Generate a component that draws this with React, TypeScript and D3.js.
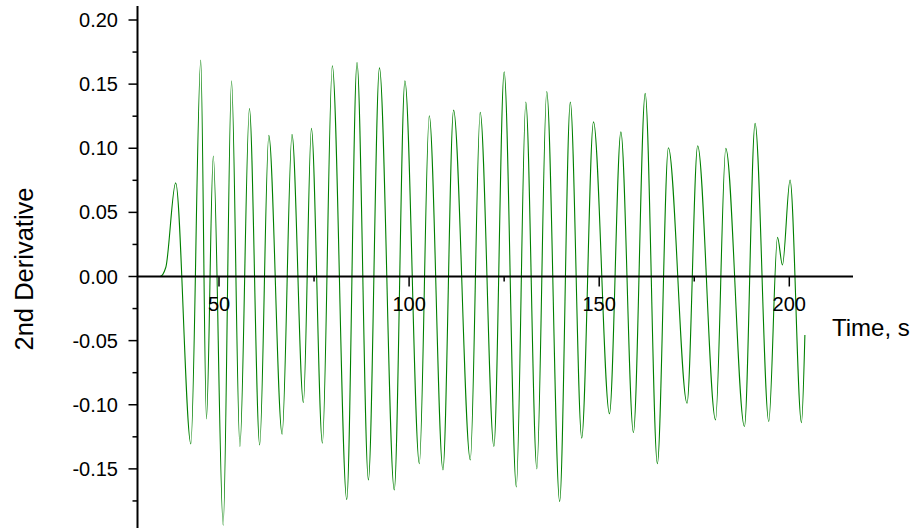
import {useEffect, useRef} from "react";
import * as d3 from 'd3';

// time (s) and 2nd derivative at the turning points of the trace
const times = [28.7, 34.5, 36.0, 38.6, 42.6, 45.2, 46.7, 48.5, 51.1, 53.3, 55.5, 58.0, 60.7, 63.1, 66.6, 69.2, 72.2, 74.3, 77.2, 79.8,
  83.6, 86.3, 89.3, 92.2, 96.1, 98.9, 102.7, 105.3, 108.9, 111.7, 116.1, 118.7, 122.3, 125.0, 128.2, 130.7, 133.6, 136.2, 139.6, 142.4,
  145.4, 148.5, 152.7, 155.7, 159.0, 162.1, 165.3, 168.2, 173.1, 175.9, 180.6, 183.3, 188.2, 191.0, 194.6, 196.9, 198.2, 200.2, 203.2, 204.1];
const values = [0, 0, 0.007, 0.073, -0.1305, 0.1687, -0.111, 0.094, -0.194, 0.1526, -0.1326, 0.131, -0.1313, 0.110, -0.123, 0.1108, -0.0983, 0.1155, -0.130, 0.1643,
  -0.174, 0.1669, -0.1586, 0.1627, -0.1664, 0.1526, -0.146, 0.1253, -0.1508, 0.1297, -0.143, 0.128, -0.1326, 0.1596, -0.164, 0.136, -0.150, 0.1443, -0.1755, 0.136,
  -0.126, 0.1206, -0.107, 0.1128, -0.1217, 0.1428, -0.146, 0.1004, -0.0988, 0.102, -0.1118, 0.0999, -0.117, 0.1194, -0.113, 0.0305, 0.009, 0.0752, -0.114, -0.0456];

const xMajor = [50, 100, 150, 200];
const xMinor = [75, 125, 175];
const yMajor = [0.20, 0.15, 0.10, 0.05, 0.00, -0.05, -0.10, -0.15];
const yMinor = [0.175, 0.125, 0.075, 0.025, -0.025, -0.075, -0.125, -0.175];

const width = 917;
const height = 528;
const font = '"Liberation Sans", Arial, sans-serif';

export default function App() {
  const svgRef = useRef<SVGSVGElement>(null);

  useEffect(() => {
    const svg = d3.select(svgRef.current);
    svg.selectAll('*').remove();

    const x = d3.scaleLinear().domain([50, 200]).range([219, 789.3]);
    const y = d3.scaleLinear().domain([-0.2, 0.2]).range([533, 20]);
    const axisX = 137.5;
    const zeroY = y(0);

    const data = times.map((t, i) => ({t, v: values[i]}));

    const line = d3.line<{t: number, v: number}>()
      .x(d => x(d.t))
      .y(d => y(d.v))
      .curve(d3.curveMonotoneX);

    svg.append('path')
      .datum(data)
      .attr('fill', 'none')
      .attr('stroke', '#008000')
      .attr('stroke-width', 1.1)
      .attr('d', line);

    // x axis along zero
    svg.append('line')
      .attr('x1', axisX).attr('x2', 853)
      .attr('y1', zeroY).attr('y2', zeroY)
      .attr('stroke', '#000').attr('stroke-width', 2);

    svg.selectAll('.xmaj').data(xMajor).enter().append('line')
      .attr('x1', d => x(d)).attr('x2', d => x(d))
      .attr('y1', zeroY).attr('y2', zeroY + 10)
      .attr('stroke', '#000').attr('stroke-width', 1.5);
    svg.selectAll('.xmin').data(xMinor).enter().append('line')
      .attr('x1', d => x(d)).attr('x2', d => x(d))
      .attr('y1', zeroY).attr('y2', zeroY + 5)
      .attr('stroke', '#000').attr('stroke-width', 1.5);
    svg.selectAll('.xlab').data(xMajor).enter().append('text')
      .attr('x', d => x(d)).attr('y', 311)
      .attr('text-anchor', 'middle')
      .attr('font-family', font).attr('font-size', 20)
      .text(d => String(d));

    // y axis
    svg.append('line')
      .attr('x1', axisX).attr('x2', axisX)
      .attr('y1', 6).attr('y2', height)
      .attr('stroke', '#000').attr('stroke-width', 2);

    svg.selectAll('.ymaj').data(yMajor).enter().append('line')
      .attr('x1', axisX - 9).attr('x2', axisX)
      .attr('y1', d => y(d)).attr('y2', d => y(d))
      .attr('stroke', '#000').attr('stroke-width', 1.5);
    svg.selectAll('.ymin').data(yMinor).enter().append('line')
      .attr('x1', axisX - 5).attr('x2', axisX)
      .attr('y1', d => y(d)).attr('y2', d => y(d))
      .attr('stroke', '#000').attr('stroke-width', 1.5);
    svg.selectAll('.ylab').data(yMajor).enter().append('text')
      .attr('x', 118).attr('y', d => y(d))
      .attr('dy', '0.35em')
      .attr('text-anchor', 'end')
      .attr('font-family', font).attr('font-size', 20)
      .text(d => d3.format('.2f')(d).replace('−', '-'));

    // axis titles
    svg.append('text')
      .attr('transform', 'translate(33,269) rotate(-90)')
      .attr('text-anchor', 'middle')
      .attr('font-family', font).attr('font-size', 25.5)
      .text('2nd Derivative');

    svg.append('text')
      .attr('x', 832).attr('y', 336)
      .attr('font-family', font).attr('font-size', 24)
      .text('Time, s');
  }, []);

  return (
    <div>
      <svg ref={svgRef} width={width} height={height}
        style={{position: 'absolute', left: 0, top: 0, display: 'block', background: '#fff'}}></svg>
    </div>
  );
}
